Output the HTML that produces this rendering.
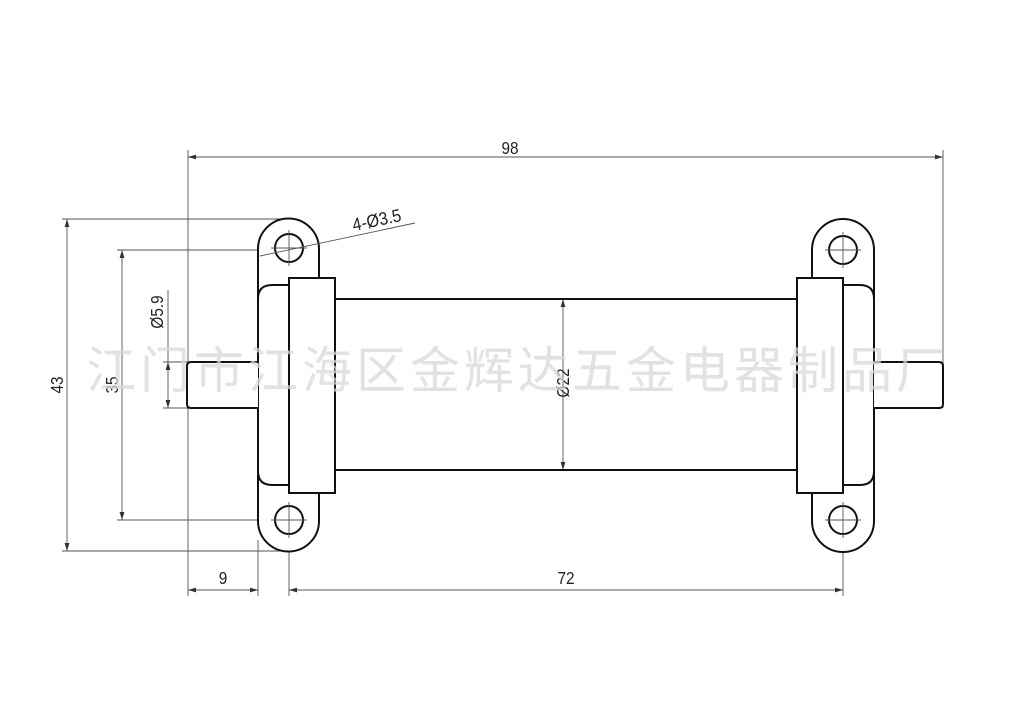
<!DOCTYPE html>
<html><head><meta charset="utf-8"><style>body{margin:0;background:#fff}svg{display:block}</style></head><body>
<svg width="1024" height="722" viewBox="0 0 1024 722" xmlns="http://www.w3.org/2000/svg">
<defs>
<marker id="a" viewBox="0 0 10 6" refX="10" refY="3" markerWidth="8" markerHeight="5" orient="auto-start-reverse" markerUnits="userSpaceOnUse"><path d="M0,0L10,3L0,6z" fill="#333"/></marker>
</defs>
<g stroke="#555" stroke-width="0.9" fill="none">
<line x1="188" y1="150" x2="188" y2="596"/>
<line x1="943" y1="150" x2="943" y2="408"/>
<line x1="258" y1="540" x2="258" y2="596"/>
<line x1="289" y1="530" x2="289" y2="596"/>
<line x1="843" y1="530" x2="843" y2="596"/>
<line x1="62" y1="219" x2="289" y2="219"/>
<line x1="62" y1="551" x2="289" y2="551"/>
<line x1="117" y1="250" x2="305" y2="250"/>
<line x1="117" y1="520" x2="305" y2="520"/>
<line x1="163" y1="362" x2="190" y2="362"/>
<line x1="163" y1="408" x2="190" y2="408"/>
<line x1="188" y1="157" x2="943" y2="157" marker-start="url(#a)" marker-end="url(#a)"/>
<line x1="67" y1="219" x2="67" y2="551" marker-start="url(#a)" marker-end="url(#a)"/>
<line x1="122" y1="250" x2="122" y2="520" marker-start="url(#a)" marker-end="url(#a)"/>
<line x1="168" y1="290" x2="168" y2="362"/>
<line x1="168" y1="362" x2="168" y2="408" marker-start="url(#a)" marker-end="url(#a)"/>
<line x1="188" y1="590" x2="258" y2="590" marker-start="url(#a)" marker-end="url(#a)"/>
<line x1="289" y1="590" x2="843" y2="590" marker-start="url(#a)" marker-end="url(#a)"/>
<line x1="563" y1="299" x2="563" y2="470" marker-start="url(#a)" marker-end="url(#a)"/>
</g>
<g stroke="#111" stroke-width="2" fill="#fff">
<path d="M258,249 A30.5,30.5 0 0 1 319,249 V278 H289 V493 H319 V521 A30.5,30.5 0 0 1 258,521 Z"/>
<path d="M289,285 H272 Q258,285 258,299 V471 Q258,485 272,485 H289"/>
<path d="M258,362 H191 Q187,362 187,366 V404 Q187,408 191,408 H258"/>
<rect x="289" y="278" width="46" height="215"/>
<circle cx="289" cy="248" r="14" fill="none"/>
<circle cx="289" cy="520" r="14" fill="none"/>
<path d="M812,250 A31,31 0 0 1 874,250 V521 A31,31 0 0 1 812,521 V493 H843 V278 H812 Z"/>
<path d="M843,285 H860 Q874,285 874,299 V471 Q874,485 860,485 H843"/>
<path d="M874,362 H939 Q943,362 943,366 V404 Q943,408 939,408 H874"/>
<rect x="797" y="278" width="46" height="215"/>
<circle cx="843" cy="250" r="14" fill="none"/>
<circle cx="843" cy="520" r="14" fill="none"/>
<line x1="335" y1="299" x2="797" y2="299"/>
<line x1="335" y1="470" x2="797" y2="470"/>
</g>
<g stroke="#555" stroke-width="0.9" fill="none">
<line x1="271" y1="248" x2="307" y2="248"/><line x1="289" y1="230" x2="289" y2="266"/>
<line x1="271" y1="520" x2="307" y2="520"/><line x1="289" y1="502" x2="289" y2="538"/>
<line x1="825" y1="250" x2="861" y2="250"/><line x1="843" y1="232" x2="843" y2="268"/>
<line x1="825" y1="520" x2="861" y2="520"/><line x1="843" y1="502" x2="843" y2="538"/>
<line x1="260" y1="256" x2="415" y2="223"/>
</g>
<g font-family="'Liberation Sans',sans-serif" font-size="18" fill="#222">
<text transform="translate(510,154) scale(0.85,1)" text-anchor="middle">98</text>
<text transform="translate(223,584) scale(0.85,1)" text-anchor="middle">9</text>
<text transform="translate(566,584) scale(0.85,1)" text-anchor="middle">72</text>
<text transform="translate(63,385) rotate(-90) scale(0.85,1)" text-anchor="middle">43</text>
<text transform="translate(118,385) rotate(-90) scale(0.85,1)" text-anchor="middle">35</text>
<text transform="translate(163,312) rotate(-90) scale(0.85,1)" text-anchor="middle">Ø5.9</text>
<text transform="translate(569,383) rotate(-90) scale(0.85,1)" text-anchor="middle">Ø22</text>
<text transform="translate(378,226) rotate(-12) scale(0.9,1)" text-anchor="middle">4-Ø3.5</text>
</g>
<text x="86" y="388" font-family="'Noto Sans CJK SC',sans-serif" font-size="50" fill="#d8d8d8" fill-opacity="0.75" textLength="860" lengthAdjust="spacing">江门市江海区金辉达五金电器制品厂</text>
</svg>
</body></html>
